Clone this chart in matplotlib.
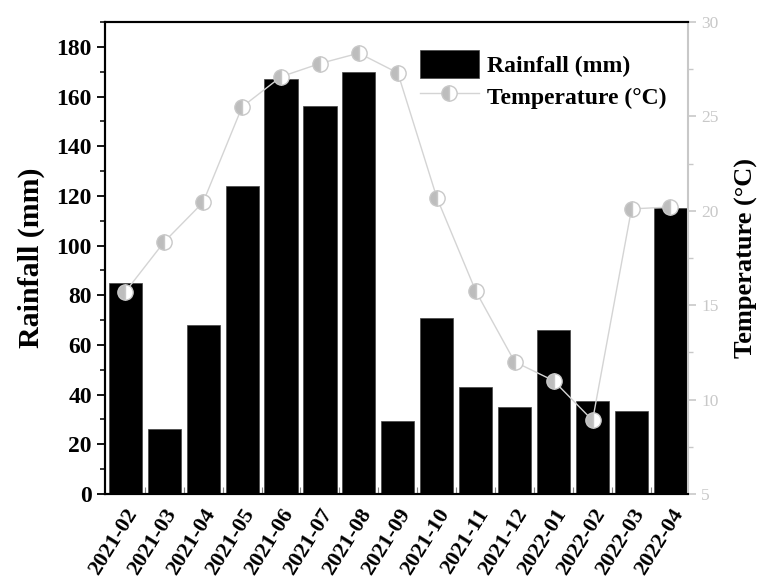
import matplotlib
matplotlib.use("Agg")
from matplotlib import pyplot as plt
from matplotlib.ticker import MultipleLocator, FixedLocator

months = ["2021-02", "2021-03", "2021-04", "2021-05", "2021-06", "2021-07", "2021-08",
          "2021-09", "2021-10", "2021-11", "2021-12", "2022-01", "2022-02", "2022-03", "2022-04"]
rainfall = [85, 26, 68, 124, 167, 156, 170, 29.5, 71, 43, 35, 66, 37.5, 33.5, 115]
temperature = [15.7, 18.35, 20.45, 25.5, 27.1, 27.8, 28.35, 27.3, 20.7, 15.75, 12.0, 11.0, 8.9, 20.1, 20.2]

plt.rcParams["font.family"] = ["Liberation Serif", "DejaVu Serif"]
plt.rcParams["font.weight"] = "bold"

fig = plt.figure(figsize=(7.64, 5.86), dpi=100)
ax = fig.add_axes([0.1374, 0.157, 0.7631, 0.8055])
ax2 = ax.twinx()

x = list(range(len(months)))
bars = ax.bar(x, rainfall, width=0.85, color="black", edgecolor="#444444", linewidth=0.5,
              label="Rainfall (mm)")
line, = ax2.plot(x, temperature, color="#d4d4d4", linewidth=1.0, marker="o", markersize=11,
                 fillstyle="left", markerfacecolor="#bdbdbd", markerfacecoloralt="white",
                 markeredgecolor="#c8c8c8", markeredgewidth=1.0, label="Temperature (\u00b0C)")

ax.set_xlim(-0.52, 14.45)
ax.set_ylim(0, 190)
ax2.set_ylim(5, 30)

ax.yaxis.set_major_locator(MultipleLocator(20))
ax.yaxis.set_minor_locator(MultipleLocator(10))
ax.tick_params(axis="y", which="major", direction="out", length=6, width=1.3, labelsize=17, colors="black")
ax.tick_params(axis="y", which="minor", direction="out", length=3.5, width=1.1)

ax.set_xticks(x)
ax.set_xticklabels(months, rotation=58, ha="right", rotation_mode="anchor", fontsize=16)
ax.xaxis.set_minor_locator(FixedLocator([i + 0.5 for i in range(len(months) - 1)]))
ax.tick_params(axis="x", which="major", length=0, pad=8)
ax.tick_params(axis="x", which="minor", direction="in", length=5, width=0.8, color="#888888")

ax2.yaxis.set_major_locator(MultipleLocator(5))
ax2.yaxis.set_minor_locator(MultipleLocator(2.5))
ax2.tick_params(axis="y", which="major", direction="out", length=6, width=1.2, colors="#c8c8c8", labelsize=12.5)
ax2.tick_params(axis="y", which="minor", direction="out", length=3.5, width=1.0, colors="#c8c8c8")
for lab in ax2.get_yticklabels():
    lab.set_fontweight("normal")

for s in ["left", "bottom", "top"]:
    ax.spines[s].set_linewidth(1.5)
    ax2.spines[s].set_linewidth(1.5)
ax.spines["right"].set_visible(False)
ax2.spines["right"].set_color("#c8c8c8")
ax2.spines["right"].set_linewidth(1.5)

ax.set_ylabel("Rainfall (mm)", fontsize=21.5, fontweight="bold", labelpad=8)
ax2.set_ylabel("Temperature (\u00b0C)", fontsize=19, fontweight="bold", labelpad=12)

ax2.legend([bars, line], ["Rainfall (mm)", "Temperature (\u00b0C)"], loc="upper right",
           bbox_to_anchor=(1.0, 0.985), frameon=False, handlelength=2.5,
           handleheight=1.4, handletextpad=0.35, labelspacing=0.2,
           prop={"weight": "bold", "size": 17})

fig.savefig("out.png", dpi=100)
